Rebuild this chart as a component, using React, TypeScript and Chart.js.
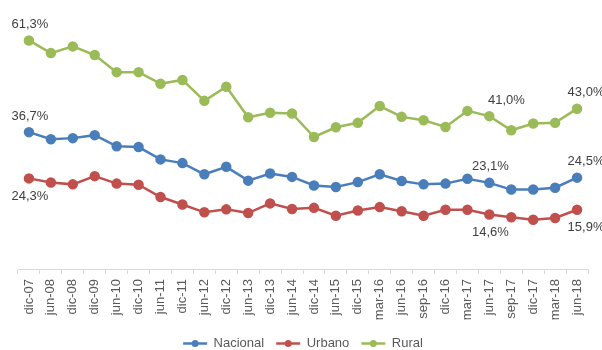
import React, { useEffect, useRef } from "react";
import { Chart, registerables } from "chart.js";

Chart.register(...registerables);

const categories = [
  "dic-07", "jun-08", "dic-08", "dic-09", "jun-10", "dic-10", "jun-11", "dic-11",
  "jun-12", "dic-12", "jun-13", "dic-13", "jun-14", "dic-14", "jun-15", "dic-15",
  "mar-16", "jun-16", "sep-16", "dic-16", "mar-17", "jun-17", "sep-17", "dic-17",
  "mar-18", "jun-18",
];

const nacional = [
  36.7, 34.8, 35.1, 35.9, 32.9, 32.7, 29.4, 28.4, 25.4, 27.4, 23.7, 25.6, 24.7,
  22.4, 22.0, 23.3, 25.4, 23.6, 22.7, 22.9, 24.2, 23.1, 21.3, 21.3, 21.8, 24.5,
];

const urbano = [
  24.3, 23.2, 22.7, 24.9, 22.9, 22.6, 19.3, 17.3, 15.2, 16.0, 15.0, 17.6, 16.1,
  16.4, 14.3, 15.7, 16.6, 15.5, 14.3, 15.9, 15.9, 14.6, 13.9, 13.2, 13.7, 15.9,
];

const rural = [
  61.3, 57.9, 59.7, 57.4, 52.8, 52.8, 49.7, 50.7, 45.1, 48.9, 40.7, 41.9, 41.7,
  35.4, 38.0, 39.2, 43.7, 40.8, 39.9, 38.1, 42.4, 41.0, 37.2, 39.0, 39.2, 43.0,
];

const labeledIndices = [0, 21, 25];

const FONT = "'Liberation Sans', Arial, sans-serif";

const fmt = (v: number) => v.toFixed(1).replace(".", ",") + "%";

const dataLabelPlugin = {
  id: "dataLabels",
  afterDatasetsDraw(chart: any) {
    const ctx = chart.ctx;
    ctx.save();
    ctx.font = "13px " + FONT;
    ctx.fillStyle = "#404040";
    ctx.textAlign = "center";
    ctx.textBaseline = "middle";
    chart.data.datasets.forEach((ds: any, di: number) => {
      const meta = chart.getDatasetMeta(di);
      const below = ds.label === "Urbano";
      labeledIndices.forEach((i) => {
        const pt = meta.data[i];
        if (!pt) return;
        let dx = 1;
        if (i === 21 && ds.label === "Rural") dx = 17;
        if (i === 25) dx = 9;
        const dy = below ? 18 : -16;
        ctx.fillText(fmt(ds.data[i]), pt.x + dx, pt.y + dy);
      });
    });
    ctx.restore();
  },
};

const legendDotPlugin = {
  id: "legendDots",
  afterDraw(chart: any) {
    const legend = chart.legend;
    if (!legend || !legend.legendHitBoxes) return;
    const ctx = chart.ctx;
    ctx.save();
    legend.legendHitBoxes.forEach((box: any, i: number) => {
      const ds = chart.data.datasets[i];
      const cx = box.left + 12;
      const cy = box.top + box.height / 2;
      ctx.beginPath();
      ctx.arc(cx, cy, 3.5, 0, Math.PI * 2);
      ctx.fillStyle = ds.borderColor;
      ctx.fill();
    });
    ctx.restore();
  },
};

export default function App() {
  const canvasRef = useRef<HTMLCanvasElement>(null);

  useEffect(() => {
    document.body.style.margin = "0";
    const mk = (label: string, data: number[], color: string) => ({
      label,
      data,
      borderColor: color,
      backgroundColor: color,
      pointBackgroundColor: color,
      pointBorderColor: color,
      borderWidth: 2.5,
      pointRadius: 4,
      pointStyle: "circle",
      tension: 0,
    });
    const chart = new Chart(canvasRef.current!, {
      type: "line",
      data: {
        labels: categories,
        datasets: [
          mk("Nacional", nacional, "#4A7EBB"),
          mk("Urbano", urbano, "#C0504D"),
          mk("Rural", rural, "#9BBB59"),
        ],
      },
      options: {
        responsive: false,
        animation: false,
        layout: { padding: { top: 8, left: 18, right: 14, bottom: -10 } },
        plugins: {
          legend: {
            position: "bottom",
            labels: {
              usePointStyle: true,
              pointStyle: "line",
              pointStyleWidth: 24,
              boxHeight: 2,
              color: "#595959",
              font: { family: FONT, size: 13 },
              padding: 12,
            },
          },
          tooltip: { enabled: false },
        },
        scales: {
          x: {
            offset: true,
            afterFit: (scale: any) => {
              scale.height = 56;
            },
            grid: {
              offset: true,
              drawOnChartArea: false,
              drawTicks: true,
              tickLength: 5,
              color: "#D9D9D9",
            },
            border: { display: true, color: "#D9D9D9" },
            ticks: {
              minRotation: 90,
              maxRotation: 90,
              autoSkip: false,
              color: "#595959",
              padding: 5,
              font: { family: FONT, size: 13 },
            },
          },
          y: {
            display: false,
            min: 0,
            max: 70,
          },
        },
      },
      plugins: [dataLabelPlugin, legendDotPlugin],
    });
    return () => chart.destroy();
  }, []);

  return <canvas ref={canvasRef} width={602} height={350} style={{ display: "block" }} />;
}
